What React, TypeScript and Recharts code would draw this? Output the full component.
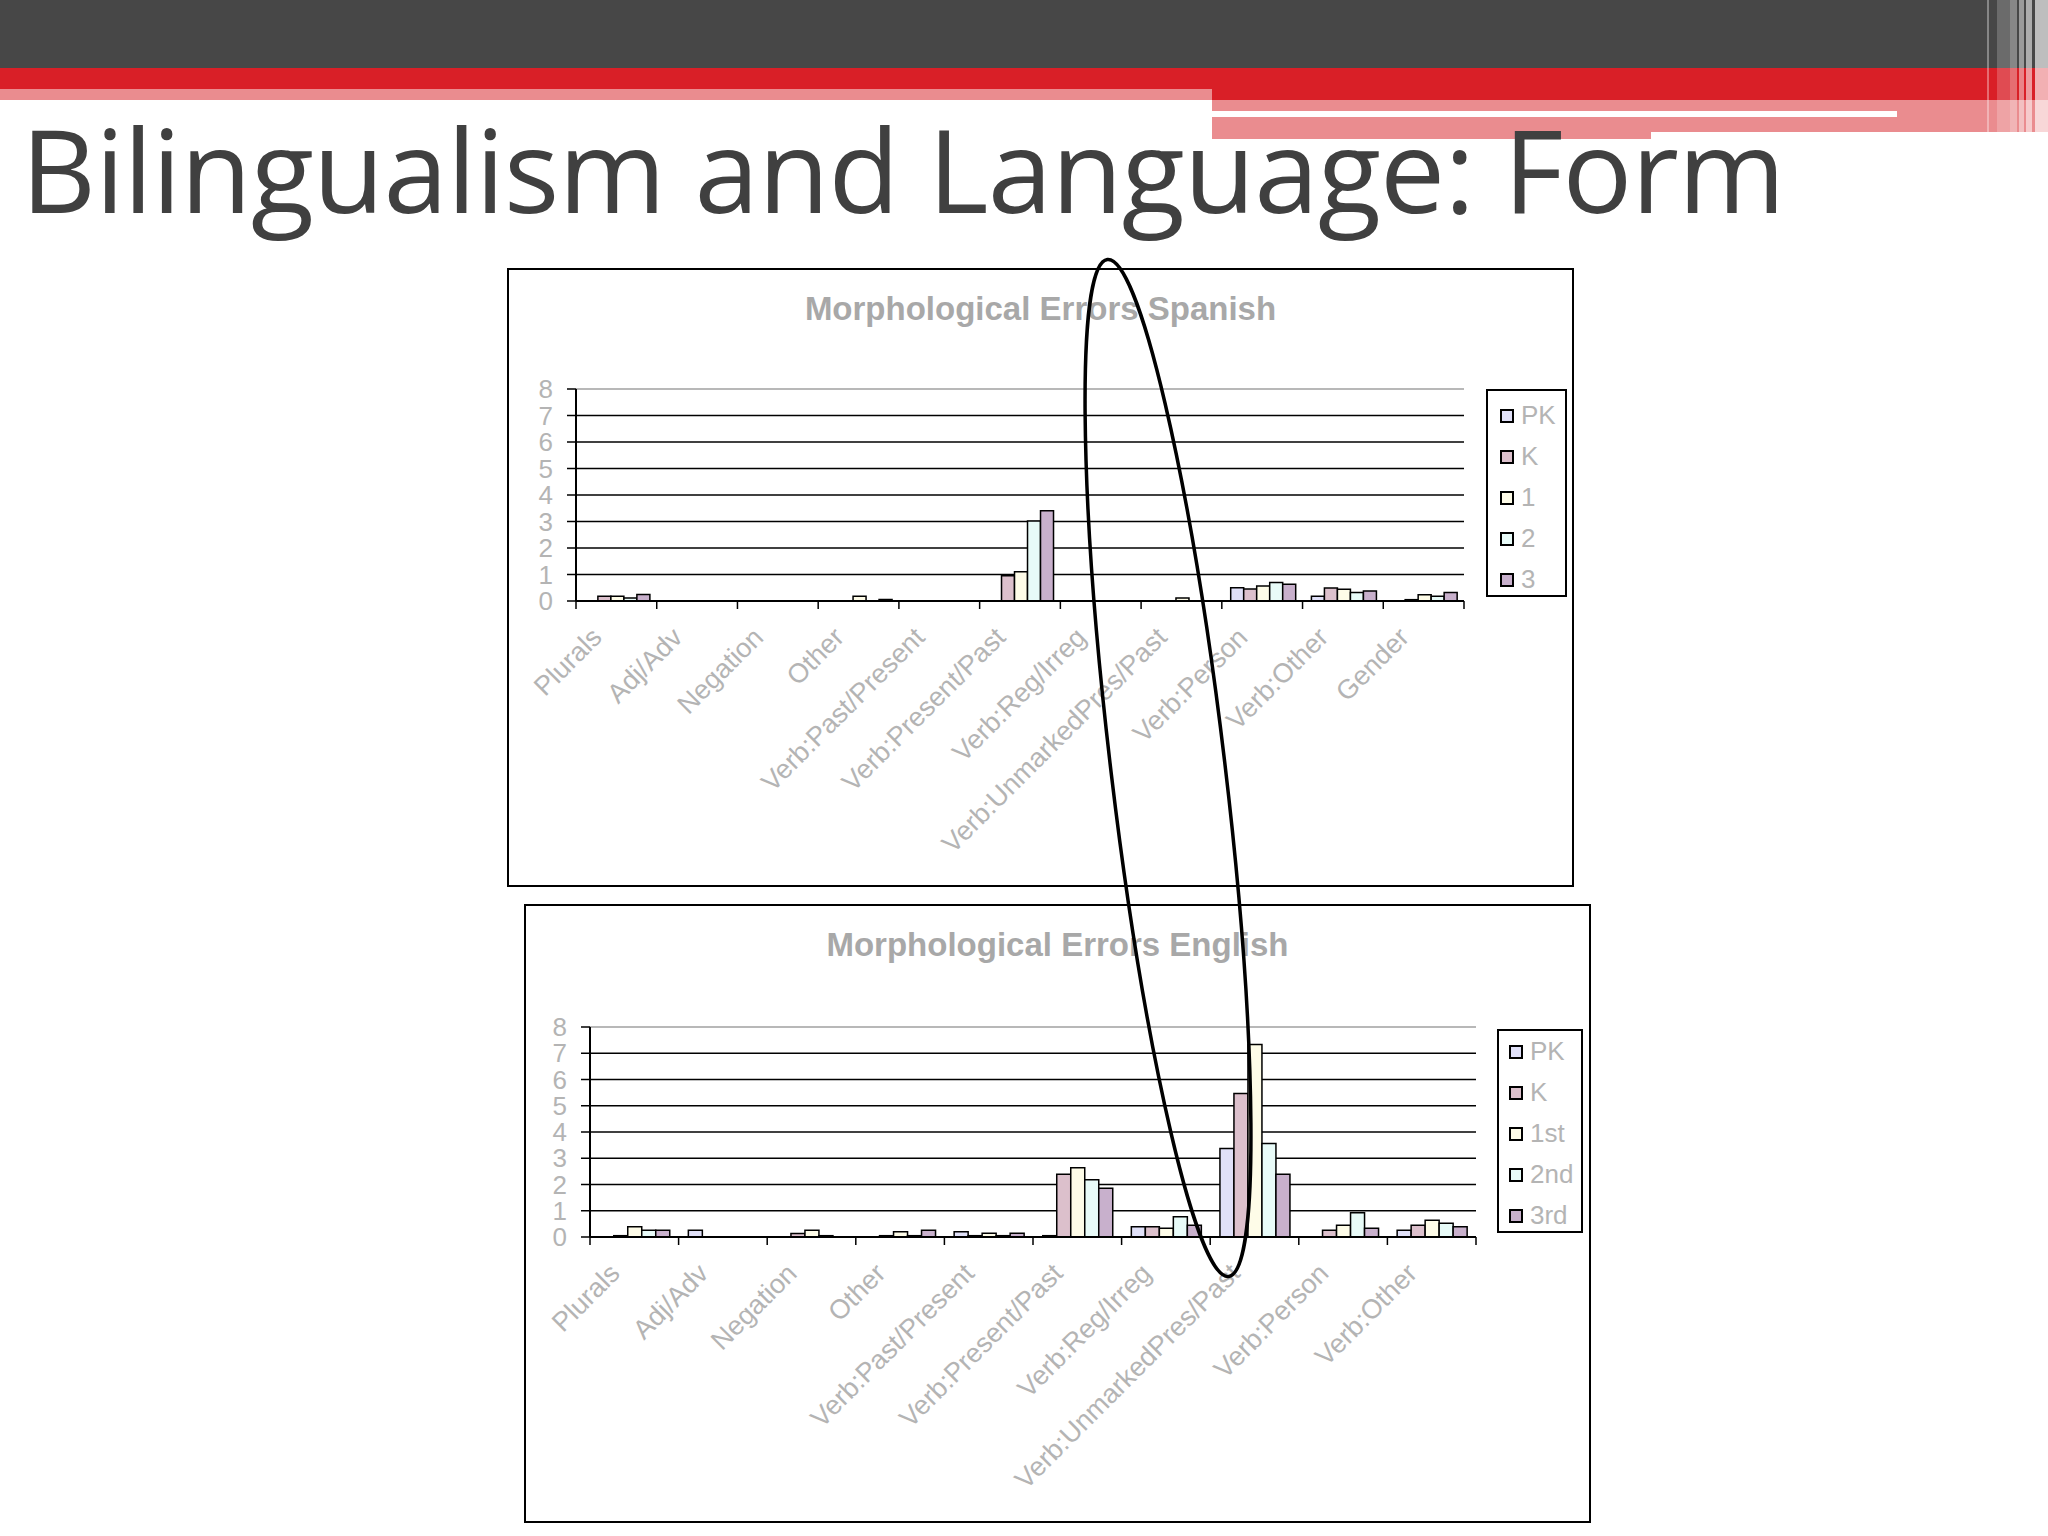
import React from "react";
import {
  Bar,
  BarChart,
  CartesianGrid,
  Legend,
  ReferenceLine,
  XAxis,
  YAxis,
} from "recharts";

// Spanish chart
const spanishCategories = [
  "Plurals",
  "Adj/Adv",
  "Negation",
  "Other",
  "Verb:Past/Present",
  "Verb:Present/Past",
  "Verb:Reg/Irreg",
  "Verb:UnmarkedPres/Past",
  "Verb:Person",
  "Verb:Other",
  "Gender",
];
const spanishSeriesNames = ["PK", "K", "1", "2", "3"];
const spanishPK = [0, 0, 0, 0, 0, 0, 0, 0, 0.5, 0.18, 0];
const spanishK = [0.18, 0, 0, 0, 0, 0.95, 0, 0, 0.45, 0.49, 0.05];
const spanish1 = [0.18, 0, 0, 0.18, 0, 1.1, 0, 0.11, 0.57, 0.44, 0.24];
const spanish2 = [0.11, 0, 0, 0, 0, 3.02, 0, 0, 0.7, 0.32, 0.18];
const spanish3 = [0.25, 0, 0, 0.06, 0, 3.41, 0, 0, 0.63, 0.38, 0.32];

// English chart
const englishCategories = [
  "Plurals",
  "Adj/Adv",
  "Negation",
  "Other",
  "Verb:Past/Present",
  "Verb:Present/Past",
  "Verb:Reg/Irreg",
  "Verb:UnmarkedPres/Past",
  "Verb:Person",
  "Verb:Other",
];
const englishSeriesNames = ["PK", "K", "1st", "2nd", "3rd"];
const englishPK = [0, 0.26, 0, 0, 0.2, 0.05, 0.39, 3.37, 0, 0.26];
const englishK = [0.05, 0, 0.13, 0.05, 0.05, 2.39, 0.39, 5.47, 0.26, 0.45];
const english1st = [0.39, 0, 0.26, 0.2, 0.14, 2.64, 0.33, 7.33, 0.45, 0.64];
const english2nd = [0.26, 0, 0.05, 0.05, 0.05, 2.18, 0.77, 3.56, 0.92, 0.52];
const english3rd = [0.26, 0, 0, 0.26, 0.14, 1.86, 0.45, 2.39, 0.33, 0.39];

const yTicks = [0, 1, 2, 3, 4, 5, 6, 7, 8];
const gridValues = [1, 2, 3, 4, 5, 6, 7];
const seriesColors = ["#e0e0f8", "#dcc0cc", "#fefce8", "#e8fbf8", "#c8b0cc"];

const FONT = "'Liberation Sans', Arial, sans-serif";
const GREY_TEXT = "#b4b4b4";

const buildRows = (categories: string[], series: number[][]) =>
  categories.map((name, i) => {
    const row: Record<string, string | number> = { name };
    series.forEach((s, k) => {
      row["s" + k] = s[i];
    });
    return row;
  });

const spanishData = buildRows(spanishCategories, [
  spanishPK,
  spanishK,
  spanish1,
  spanish2,
  spanish3,
]);
const englishData = buildRows(englishCategories, [
  englishPK,
  englishK,
  english1st,
  english2nd,
  english3rd,
]);

type ChartBoxProps = {
  title: string;
  data: Record<string, string | number>[];
  names: string[];
  left: number;
  top: number;
  width: number;
  height: number;
  margin: { top: number; right: number; left: number; bottom: number };
  yWidth: number;
  axisHeight: number;
  legend: { left: number; top: number; width: number; height: number; first: number; sq: number };
};

const ErrorChart = ({ title, data, names, left, top, width, height, margin, yWidth, axisHeight, legend }: ChartBoxProps) => {
  const plotWidth = width - margin.left - margin.right - yWidth;
  const band = plotWidth / data.length;

  const renderTick = (props: any) => {
    const { x, y, payload, index } = props;
    const tx = x - 13;
    const ty = y + 38;
    return (
      <g>
        <line x1={x - band / 2} x2={x - band / 2} y1={y} y2={y + 8} stroke="#000" strokeWidth={1.5} />
        {index === data.length - 1 && (
          <line x1={x + band / 2} x2={x + band / 2} y1={y} y2={y + 8} stroke="#000" strokeWidth={1.5} />
        )}
        <text
          x={tx}
          y={ty}
          textAnchor="end"
          fill={GREY_TEXT}
          fontSize={27}
          fontFamily={FONT}
          transform={`rotate(-45, ${tx}, ${ty})`}
        >
          {payload.value}
        </text>
      </g>
    );
  };

  const renderLegend = (props: any) => {
    const payload = props.payload || [];
    const ordered = names
      .map((n) => payload.find((e: any) => e.value === n))
      .filter(Boolean);
    return (
      <div
        style={{
          width: legend.width,
          height: legend.height,
          boxSizing: "border-box",
          border: "2px solid #000",
          background: "#fff",
          paddingTop: legend.first - 22,
        }}
      >
        {ordered.map((entry: any) => (
          <div
            key={entry.value}
            style={{ height: 41, display: "flex", alignItems: "center", fontFamily: FONT, fontSize: 26, color: GREY_TEXT }}
          >
            <span
              style={{
                display: "inline-block",
                width: 14,
                height: 14,
                marginLeft: legend.sq,
                marginRight: 7,
                background: entry.color,
                border: "2px solid #000",
                boxSizing: "border-box",
              }}
            />
            <span>{entry.value}</span>
          </div>
        ))}
      </div>
    );
  };

  return (
    <div style={{ position: "absolute", left, top, width, height }}>
      <div
        style={{
          position: "absolute",
          left: 0,
          top: 0,
          width,
          height,
          boxSizing: "border-box",
          border: "2px solid #000",
        }}
      />
      <div
        style={{
          position: "absolute",
          left: 0,
          width,
          top: 22,
          textAlign: "center",
          fontFamily: FONT,
          fontWeight: "bold",
          fontSize: 33,
          color: "#a8a8a8",
        }}
      >
        {title}
      </div>
      <BarChart
        width={width}
        height={height}
        data={data}
        margin={margin}
        barCategoryGap="11%"
        barGap={0}
        style={{ position: "absolute", left: 0, top: 0 }}
      >
        <CartesianGrid
          yAxisId="left"
          vertical={false}
          stroke="#000"
          strokeWidth={1.5}
          horizontalValues={gridValues}
        />
        <XAxis
          dataKey="name"
          interval={0}
          height={axisHeight}
          tickLine={false}
          tickSize={0}
          tickMargin={0}
          axisLine={{ stroke: "#000", strokeWidth: 2 }}
          tick={renderTick}
        />
        <YAxis
          yAxisId="left"
          domain={[0, 8]}
          ticks={yTicks}
          interval={0}
          width={yWidth}
          tickSize={9}
          tickMargin={14}
          axisLine={{ stroke: "#000", strokeWidth: 2 }}
          tickLine={{ stroke: "#000", strokeWidth: 1.5 }}
          tick={{ fill: GREY_TEXT, fontSize: 26, fontFamily: FONT }}
        />
        <YAxis
          yAxisId="right"
          orientation="right"
          domain={[0, 8]}
          width={0}
          tick={false}
          tickLine={false}
          axisLine={{ stroke: "#a0a0a0", strokeWidth: 1.5 }}
        />
        <ReferenceLine yAxisId="left" y={8} stroke="#a0a0a0" strokeWidth={1.5} />
        <Legend
          layout="vertical"
          align="center"
          verticalAlign="middle"
          content={renderLegend}
          wrapperStyle={{ position: "absolute", left: legend.left, top: legend.top, width: legend.width, height: legend.height }}
        />
        {names.map((n, k) => (
          <Bar
            key={n}
            yAxisId="left"
            dataKey={"s" + k}
            name={n}
            fill={seriesColors[k]}
            stroke="#000"
            strokeWidth={1.5}
            isAnimationActive={false}
          />
        ))}
      </BarChart>
    </div>
  );
};

const rightStripes = [
  { x: 1987, w: 2, a: 0.35 },
  { x: 1997, w: 13, a: 0.2 },
  { x: 2010, w: 7, a: 0.35 },
  { x: 2019, w: 5, a: 0.45 },
  { x: 2026, w: 6, a: 0.55 },
  { x: 2035, w: 13, a: 0.65 },
];

export default function App() {
  return (
    <div
      style={{
        position: "absolute",
        left: 0,
        top: 0,
        width: 2048,
        height: 1536,
        background: "#fff",
        overflow: "hidden",
      }}
    >
      {/* slide header bands */}
      <div style={{ position: "absolute", left: 0, top: 0, width: 2048, height: 68, background: "#474747" }} />
      <div style={{ position: "absolute", left: 0, top: 68, width: 2048, height: 21, background: "#d91f27" }} />
      <div style={{ position: "absolute", left: 0, top: 89, width: 1212, height: 11, background: "#ea8c8f" }} />
      <div style={{ position: "absolute", left: 1212, top: 89, width: 836, height: 11, background: "#d91f27" }} />
      <div style={{ position: "absolute", left: 1212, top: 100, width: 836, height: 32, background: "#ea8c8f" }} />
      <div style={{ position: "absolute", left: 1212, top: 132, width: 439, height: 7, background: "#ea8c8f" }} />
      <div style={{ position: "absolute", left: 1212, top: 111, width: 685, height: 6, background: "#fff" }} />
      {rightStripes.map((s) => (
        <div
          key={s.x}
          style={{
            position: "absolute",
            left: s.x,
            top: 0,
            width: s.w,
            height: 138,
            background: `rgba(255,255,255,${s.a})`,
          }}
        />
      ))}

      <svg width={2048} height={260} style={{ position: "absolute", left: 0, top: 0 }}>
        <text
          x={21}
          y={213}
          fontFamily="'Open Sans', sans-serif"
          fontSize={116}
          letterSpacing={-0.8}
          fill="#404040"
        >
          Bilingualism and Language: Form
        </text>
      </svg>

      <ErrorChart
        title="Morphological Errors Spanish"
        data={spanishData}
        names={spanishSeriesNames}
        left={507}
        top={268}
        width={1067}
        height={619}
        margin={{ top: 121, right: 110, left: 0, bottom: 0 }}
        yWidth={69}
        axisHeight={286}
        legend={{ left: 979, top: 121, width: 81, height: 208, first: 26, sq: 12 }}
      />
      <ErrorChart
        title="Morphological Errors English"
        data={englishData}
        names={englishSeriesNames}
        left={524}
        top={904}
        width={1067}
        height={619}
        margin={{ top: 123, right: 115, left: 0, bottom: 0 }}
        yWidth={66}
        axisHeight={286}
        legend={{ left: 973, top: 125, width: 86, height: 204, first: 22, sq: 10 }}
      />

      {/* hand-drawn highlight ellipse */}
      <svg width={2048} height={1536} style={{ position: "absolute", left: 0, top: 0, pointerEvents: "none" }}>
        <ellipse
          cx={1168}
          cy={768}
          rx={57}
          ry={512}
          transform="rotate(-6.8, 1168, 768)"
          fill="none"
          stroke="#000"
          strokeWidth={3.5}
        />
      </svg>
    </div>
  );
}
